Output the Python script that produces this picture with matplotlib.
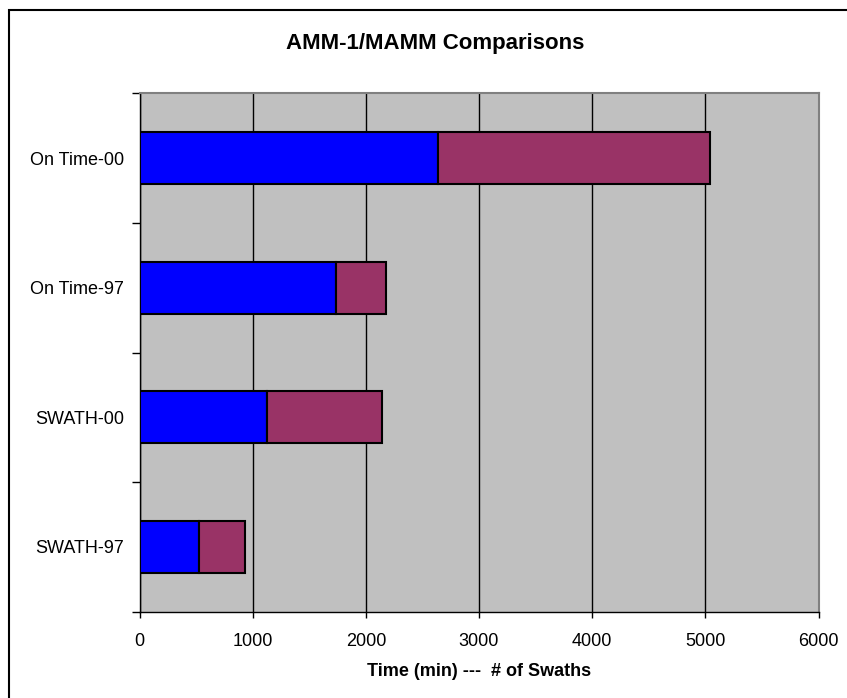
import matplotlib.pyplot as plt
from matplotlib.patches import Rectangle

plt.rcParams['font.family'] = ['Liberation Sans', 'DejaVu Sans']

# Categories listed bottom to top
categories = ['SWATH-97', 'SWATH-00', 'On Time-97', 'On Time-00']
time_min = [525, 1125, 1740, 2640]
num_swaths = [410, 1020, 435, 2400]
x_ticks = [0, 1000, 2000, 3000, 4000, 5000, 6000]

W, H = 847, 698
fig = plt.figure(figsize=(W / 100, H / 100), dpi=100)

# outer chart border (runs past the right and bottom edges)
fig.patches.append(Rectangle((8.5 / W, -0.1), 1.2, 1 - 10 / H + 0.1,
                             transform=fig.transFigure, fill=False,
                             edgecolor='black', linewidth=1.5))

ax = fig.add_axes([139.5 / W, 1 - 611.7 / H, 679 / W, 518.4 / H])
ax.set_facecolor('#C0C0C0')

y = range(len(categories))
ax.barh(y, time_min, height=0.4, color='#0000FF', edgecolor='black',
        linewidth=1.5, zorder=3)
ax.barh(y, num_swaths, left=time_min, height=0.4, color='#993366',
        edgecolor='black', linewidth=1.5, zorder=3)

ax.set_xlim(0, 6000)
ax.set_ylim(-0.5, len(categories) - 0.5)
ax.set_xticks(x_ticks)
ax.set_xticklabels([str(v) for v in x_ticks], fontsize=13)
ax.set_yticks(list(y))
ax.set_yticklabels(categories, fontsize=13)
ax.set_yticks([i - 0.5 for i in range(len(categories) + 1)], minor=True)

ax.tick_params(axis='x', direction='out', length=4, width=1, pad=11)
ax.tick_params(axis='y', which='major', length=0, pad=11)
ax.tick_params(axis='y', which='minor', direction='out', length=6, width=1)

ax.grid(axis='x', color='black', linewidth=1, zorder=1)
ax.set_axisbelow(True)

for side in ('top', 'right'):
    ax.spines[side].set_color('#808080')
    ax.spines[side].set_linewidth(1.5)
for side in ('left', 'bottom'):
    ax.spines[side].set_color('black')
    ax.spines[side].set_linewidth(1)

ax.set_xlabel('Time (min) ---  # of Swaths', fontsize=13, fontweight='bold',
              labelpad=10)
fig.text(435 / W, 1 - 44 / H, 'AMM-1/MAMM Comparisons', fontsize=16,
         fontweight='bold', ha='center', va='center')

fig.savefig('out.png', dpi=100)
